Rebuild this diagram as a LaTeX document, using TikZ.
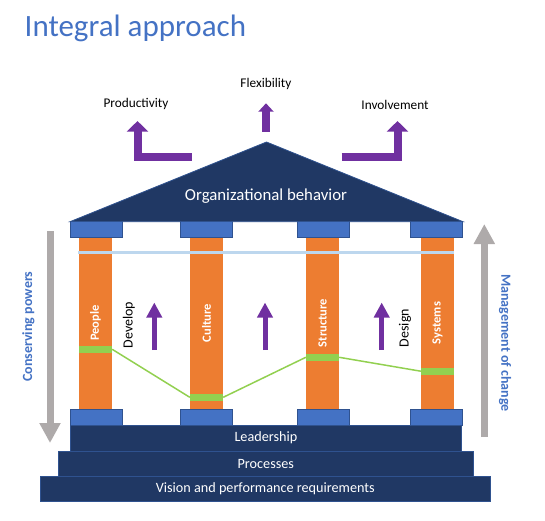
\documentclass[tikz,border=0pt]{standalone}
\usepackage{fontspec}
\setmainfont{Carlito}
\usetikzlibrary{arrows.meta}
\definecolor{navy}{HTML}{203864}
\definecolor{edgeblue}{HTML}{2F528F}
\definecolor{capblue}{HTML}{4472C4}
\definecolor{pillar}{HTML}{ED7D31}
\definecolor{leaf}{HTML}{92D050}
\definecolor{paleblue}{HTML}{BDD7EE}
\definecolor{violet}{HTML}{7030A0}
\definecolor{greyarrow}{HTML}{AEAAAA}
\tikzset{
  capbox/.style={draw=edgeblue, line width=0.8pt, fill=capblue, minimum width=52pt, minimum height=16pt, inner sep=0pt},
  pillarbox/.style={fill=pillar, rotate=90, minimum width=172pt, minimum height=33pt, inner sep=0pt, text=white, font=\fontsize{12.5}{14}\selectfont\bfseries},
  bandbox/.style={fill=leaf, minimum width=33pt, minimum height=6.7pt, inner sep=0pt},
  stepbox/.style={draw=edgeblue, line width=0.8pt, fill=navy, inner sep=0pt, text=white, font=\fontsize{14.2}{16}\selectfont},
  toplabel/.style={font=\fontsize{13.3}{16}\selectfont, text=black},
  sidelabel/.style={font=\fontsize{14}{16}\selectfont\bfseries, text=capblue},
  verb/.style={font=\fontsize{14}{16}\selectfont, text=black, rotate=90},
  uparrow/.style={violet, line width=5pt, -{Triangle[width=15pt,length=15pt]}},
  bentarrow/.style={violet, line width=8pt, line join=miter, -{Triangle[width=21pt,length=10.7pt]}},
  greyarr/.style={greyarrow, line width=7pt, -{Triangle[width=20pt,length=20pt]}},
  link/.style={leaf, line width=1.5pt}
}
\begin{document}
\begin{tikzpicture}[x=1pt,y=-1pt]
\useasboundingbox (0,0) rectangle (545,520);

% title
\node[anchor=base west, inner sep=0pt, text=capblue, font=\fontsize{31}{36}\selectfont] (title) at (24.5,36.7) {Integral approach};

% roof
\path[fill=navy, draw=edgeblue, line width=0.8pt] (70,221.7) -- (266.5,142) -- (463,221.7) -- cycle;
\node[text=white, font=\fontsize{16.8}{20}\selectfont] (roof) at (266,196) {Organizational behavior};

% top arrows
\coordinate (pA) at (191.7,156.5);
\coordinate (pB) at (137.5,156.5);
\coordinate (pC) at (137.5,121);
\draw[bentarrow] (pA) -- (pB) -- (pC);
\coordinate (fA) at (266,131.7);
\coordinate (fB) at (266,103.3);
\draw[violet, line width=8pt, -{Triangle[width=15pt,length=8.4pt]}] (fA) -- (fB);
\coordinate (iA) at (341.7,156.7);
\coordinate (iB) at (397.5,156.7);
\coordinate (iC) at (397.5,121);
\draw[bentarrow] (iA) -- (iB) -- (iC);
\node[toplabel] (prod) at (136,104) {Productivity};
\node[toplabel] (flex) at (266,84) {Flexibility};
\node[toplabel] (invo) at (395,105) {Involvement};

% pillars
\node[pillarbox] (people) at (95.5,323) {People};
\node[pillarbox] (culture) at (206.5,323) {Culture};
\node[pillarbox] (structure) at (322.5,323) {Structure};
\node[pillarbox] (systems) at (437.5,323) {Systems};

% capitals and bases
\foreach \n/\x in {1/96,2/206.5,3/323,4/436}{
  \node[capbox] (top\n) at (\x,229.5) {};
  \node[capbox] (bot\n) at (\x,417) {};
}

% pale line
\coordinate (lL) at (78,252.3);
\coordinate (lR) at (453.7,252.3);
\draw[paleblue, line width=2.5pt] (lL) -- (lR);

% green bands
\node[bandbox] (b1) at (95.5,349.3) {};
\node[bandbox] (b2) at (206.5,397.3) {};
\node[bandbox] (b3) at (322.5,357.3) {};
\node[bandbox] (b4) at (437.5,371.2) {};
\draw[link] (b1.east) -- (b2.west);
\draw[link] (b2.east) -- (b3.west);
\draw[link] (b3.east) -- (b4.west);

% inner arrows
\foreach \n/\x in {1/154.3,2/265,3/381.7}{
  \coordinate (ua\n) at (\x,350);
  \coordinate (ub\n) at (\x,302.5);
  \draw[uparrow] (ua\n) -- (ub\n);
}
\node[verb] (develop) at (129,325) {Develop};
\node[verb] (design) at (405,328) {Design};

% grey side arrows
\coordinate (gL1) at (50,231);
\coordinate (gL2) at (50,443);
\draw[greyarr] (gL1) -- (gL2);
\coordinate (gR1) at (484.3,437);
\coordinate (gR2) at (484.3,224);
\draw[greyarr] (gR1) -- (gR2);
\node[sidelabel, rotate=90] (conserve) at (28.3,326.7) {Conserving powers};
\node[sidelabel, rotate=-90] (mgmt) at (505,343) {Management of change};

% steps
\node[stepbox, minimum width=391.7pt, minimum height=26pt] (lead) at (265.9,438) {Leadership};
\node[stepbox, minimum width=415pt, minimum height=25pt] (proc) at (265.8,463.5) {Processes};
\node[stepbox, minimum width=450.7pt, minimum height=25pt] (vision) at (265.3,488.5) {Vision and performance requirements};
\end{tikzpicture}
\end{document}
